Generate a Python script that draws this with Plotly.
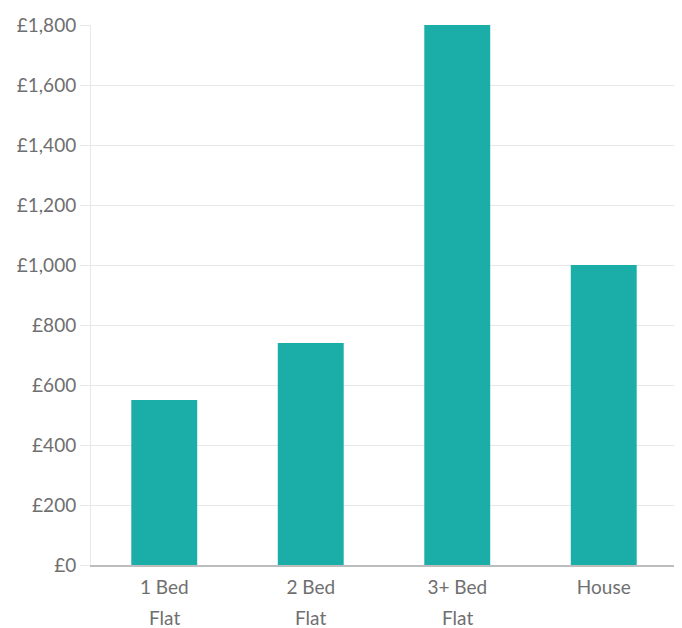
import plotly.graph_objects as go

categories = ["1 Bed Flat", "2 Bed Flat", "3+ Bed Flat", "House"]
tick_line1 = ["1 Bed", "2 Bed", "3+ Bed", "House"]
tick_line2 = ["Flat", "Flat", "Flat", ""]
values = [550, 740, 1800, 1000]

BAR = "#1BADA8"
TXT = "#6f6f6f"
GRID = "#e8e8e8"
FONT = "Lato"
FS = 19

fig = go.Figure(go.Bar(
    x=categories, y=values,
    marker=dict(color=BAR, line=dict(width=0)),
))

annotations = []
for c, t in zip(categories, tick_line2):
    if t:
        annotations.append(dict(
            x=c, xref="x", y=0, yref="paper", yanchor="top",
            yshift=-39, text=t, showarrow=False,
            font=dict(family=FONT, size=FS, color=TXT),
        ))

fig.update_layout(
    width=674, height=620,
    margin=dict(l=83, r=5, t=14, b=63),
    paper_bgcolor="white", plot_bgcolor="white",
    bargap=0.55,
    showlegend=False,
    font=dict(family=FONT, size=FS, color=TXT),
    annotations=annotations,
    xaxis=dict(
        tickmode="array", tickvals=categories, ticktext=tick_line1,
        showline=True, linecolor="#bdbdbd", linewidth=1.5,
        ticks="", showgrid=False, ticklabelstandoff=4,
        tickfont=dict(family=FONT, size=FS, color=TXT),
    ),
    yaxis=dict(
        range=[0, 1800], dtick=200, tickprefix="£", tickformat=",",
        showgrid=True, gridcolor=GRID, gridwidth=1,
        showline=True, linecolor=GRID, linewidth=1,
        ticks="outside", ticklen=10, tickcolor=GRID,
        zeroline=False,
        tickfont=dict(family=FONT, size=FS, color=TXT),
    ),
)

fig.write_html("out.html")
